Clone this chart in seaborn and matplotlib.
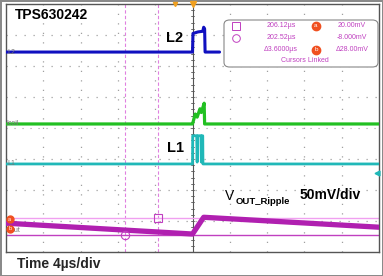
import numpy as np
import pandas as pd
import matplotlib
matplotlib.use("Agg")
import matplotlib.pyplot as plt
import seaborn as sns
from matplotlib.patches import FancyBboxPatch

sns.set_theme(style="white")
plt.rcParams['font.family'] = ['Liberation Sans', 'DejaVu Sans']

# ---- data (time in µs, level in divisions) ----
l2_t = [-20, 0.0, 0.05, 0.6, 1.1, 1.2, 1.3, 1.35, 2.9]
l2_v = [2.45, 2.45, 3.05, 3.1, 3.12, 3.25, 3.2, 2.45, 2.45]

icoil_t = [-20, 0.0, 0.3, 0.5, 0.8, 0.95, 1.25, 1.3, 20]
icoil_v = [0.13, 0.13, 0.45, 0.35, 0.62, 0.5, 0.8, 0.13, 0.13]

l1_t = [-20, 0.0, 0.02, 0.45, 0.5, 0.55, 0.9, 0.95, 1.0, 1.1, 1.12, 20]
l1_v = [-1.16, -1.16, -0.25, -0.25, -1.1, -0.25, -0.25, -1.1, -0.25, -0.25, -1.16, -1.16]

vout_t = [-20, 0.0, 1.2, 20]
vout_v = [-3.07, -3.42, -2.88, -3.2]

cursor_t = [-7.24, -3.66]
cursor_v = [-2.9, -3.45]

box_rows = [["206.12µs", "a", "20.00mV"],
            ["202.52µs", "", "-8.000mV"],
            ["Δ3.6000µs", "b", "Δ28.00mV"]]

W, H = 383, 276
fig = plt.figure(figsize=(W / 100, H / 100), dpi=100)
fig.patch.set_facecolor("white")
fig.patch.set_edgecolor("#8a8a8a")
fig.patch.set_linewidth(2)

L, R, T, B = 6, 379, 4, 252
ax = fig.add_axes([L / W, 1 - B / H, (R - L) / W, (B - T) / H])
ax.set_xlim(-20, 20)
ax.set_ylim(-4, 4)
ax.set_xticks([])
ax.set_yticks([])
for s in ax.spines.values():
    s.set_color("#555555")
    s.set_linewidth(1)
    s.set_linestyle((0, (1, 1)))

# graticule
for x in np.arange(-16, 17, 4):
    if x != 0:
        ax.axvline(x, color="#a0a0a0", lw=0.9, ls=(0, (1, 6.6)), zorder=0)
for y in np.arange(-3, 4, 1):
    if y != 0:
        ax.axhline(y, color="#a0a0a0", lw=0.9, ls=(0, (1, 6.2)), zorder=0)
ax.axvline(0, color="#555555", lw=0.8, zorder=0)
ax.axhline(0, color="#a0a0a0", lw=0.8, ls=(0, (1, 6.2)), zorder=0)
# center ticks
for yy in np.arange(-4, 4.01, 0.2):
    ax.plot([-0.15, 0.15], [yy, yy], color="#555555", lw=0.6, zorder=0)

# cursors
ax.axvline(cursor_t[0], color="#e080e0", lw=0.8, ls=(0, (3, 2)), zorder=1)
ax.axvline(cursor_t[1], color="#e080e0", lw=0.8, ls=(0, (3, 2)), zorder=1)
ax.axhline(cursor_v[0], color="#f0a0f0", lw=1.0, zorder=1)
ax.axhline(cursor_v[1], color="#c040c0", lw=1.0, zorder=1)

# traces
df_l2 = pd.DataFrame({"t": l2_t, "v": l2_v})
df_ic = pd.DataFrame({"t": icoil_t, "v": icoil_v})
df_l1 = pd.DataFrame({"t": l1_t, "v": l1_v})
df_vo = pd.DataFrame({"t": vout_t, "v": vout_v})
sns.lineplot(data=df_ic, x="t", y="v", ax=ax, color="#22c022", lw=2.3, sort=False, zorder=3)
sns.lineplot(data=df_l1, x="t", y="v", ax=ax, color="#20b8b8", lw=2.0, sort=False, zorder=3)
sns.lineplot(data=df_vo, x="t", y="v", ax=ax, color="#b020b0", lw=3.8, sort=False, zorder=3)
sns.lineplot(data=df_l2, x="t", y="v", ax=ax, color="#1010c0", lw=2.2, sort=False, zorder=3)
ax.set_xlabel("")
ax.set_ylabel("")

# cursor markers
ax.plot([cursor_t[1]], [cursor_v[0]], marker="s", ms=6, mfc="none", mec="#c040c0", mew=0.8, zorder=4)
ax.plot([cursor_t[0]], [cursor_v[1]], marker="o", ms=6, mfc="none", mec="#c040c0", mew=0.8, zorder=4)

# trigger markers
ax.plot([0], [4.0], marker="v", ms=5, color="#f0a020", clip_on=False, zorder=5)
ax.plot([-1.9], [4.0], marker="v", ms=3, color="#f0a020", clip_on=False, zorder=5)
ax.plot([19.8], [-1.45], marker="<", ms=3.5, color="#20b8b8", clip_on=False, zorder=5)

# channel labels on left
lab_kw = dict(fontsize=5, color="#777777", va="center", ha="left")
ax.text(-19.9, 2.45, "L2", **lab_kw)
ax.text(-19.95, 0.13, "Icoil", **lab_kw)
ax.text(-19.9, -1.16, "L1", **lab_kw)
ax.text(-19.5, -3.3, "out", **lab_kw)
ax.plot([-19.6], [-2.95], marker="o", ms=5, color="#f05020", zorder=6)
ax.plot([-19.6], [-3.25], marker="o", ms=5, color="#f05020", zorder=6)
ax.text(-19.6, -2.95, "a", fontsize=4, color="white", ha="center", va="center", zorder=7)
ax.text(-19.6, -3.25, "b", fontsize=4, color="white", ha="center", va="center", zorder=7)

# bold annotations
bold = dict(fontweight="bold", color="black", va="center")
ax.text(-19.1, 3.65, "TPS630242", fontsize=10, ha="left", **bold)
ax.text(-2.8, 2.9, "L2", fontsize=10.5, ha="left", **bold)
ax.text(-2.7, -0.65, "L1", fontsize=10.5, ha="left", **bold)
ax.text(11.5, -2.15, "50mV/div", fontsize=10, ha="left", **bold)
ax.text(3.5, -2.2, "V", fontsize=10, ha="left", color="black", va="center")
ax.text(4.6, -2.38, "OUT_Ripple", fontsize=6.8, ha="left", color="black", va="center", fontweight="bold")
fig.text(17 / W, 1 - 264 / H, "Time 4µs/div", fontsize=10, fontweight="bold", ha="left", va="center")

# cursor readout box
def px2t(x):
    return (x - 192.5) / 37.3 * 4
def py2v(y):
    return (128 - y) / 31.0

bx0, bx1, by0, by1 = px2t(224), px2t(378), py2v(67), py2v(20)
box = FancyBboxPatch((bx0, by0), bx1 - bx0, by1 - by0,
                     boxstyle="round,pad=0,rounding_size=0.6",
                     fc="white", ec="#888888", lw=0.8, zorder=8,
                     mutation_aspect=0.25)
ax.add_patch(box)
mag = "#c040c0"
rows_y = [py2v(25.5), py2v(37.5), py2v(49.5)]
ax.plot([px2t(236)], [rows_y[0]], marker="s", ms=5.5, mfc="none", mec=mag, mew=0.7, zorder=9)
ax.plot([px2t(236)], [rows_y[1]], marker="o", ms=5.5, mfc="none", mec=mag, mew=0.7, zorder=9)
for i, (a, c, b) in enumerate(box_rows):
    ax.text(px2t(281), rows_y[i], a, fontsize=5, color=mag, ha="center", va="center", zorder=9)
    ax.text(px2t(352), rows_y[i], b, fontsize=5, color=mag, ha="center", va="center", zorder=9)
    if c:
        ax.plot([px2t(316)], [rows_y[i]], marker="o", ms=6, color="#f05020", zorder=9)
        ax.text(px2t(316), rows_y[i], c, fontsize=4.5, color="white", ha="center", va="center", zorder=10)
ax.text(px2t(305), py2v(61), "Cursors Linked", fontsize=5, color=mag, ha="center", va="center", zorder=9)

fig.savefig("out.png", dpi=100)
